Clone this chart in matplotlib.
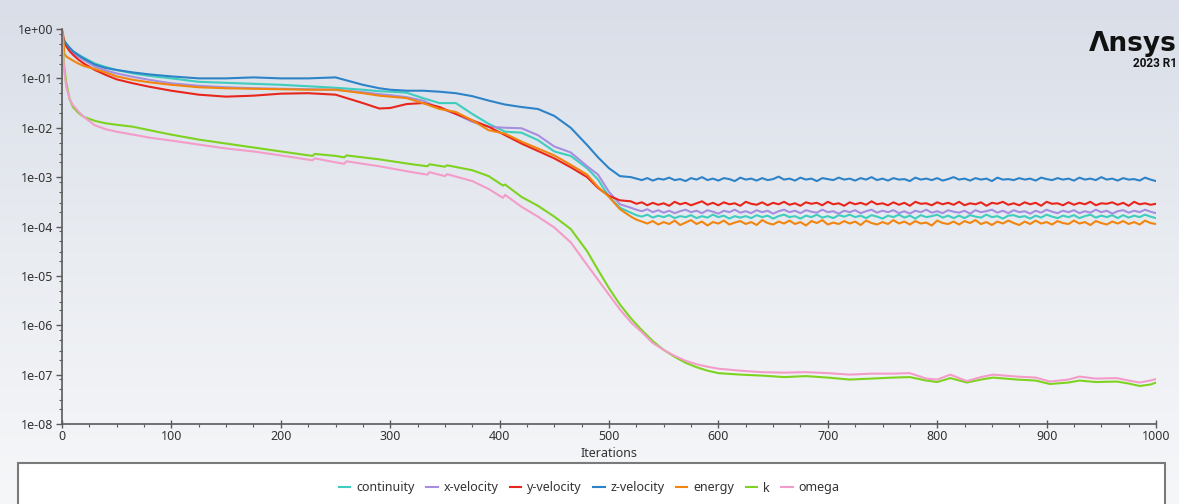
import matplotlib
matplotlib.use("Agg")
import matplotlib.pyplot as plt
import numpy as np
from matplotlib.colors import LinearSegmentedColormap
from matplotlib.patches import Rectangle
from matplotlib.ticker import FixedLocator, FuncFormatter, LogLocator, MultipleLocator

plt.rcParams["font.family"] = ["Noto Sans", "DejaVu Sans"]

# residual histories as log10 values
it_flow_head = [0, 1, 2, 4, 7, 10, 15, 20, 30, 40, 50, 65, 80, 100, 125, 150, 175, 200, 225,
                250, 275, 290, 300, 315, 330, 345, 360, 375, 390, 405, 420, 435, 450, 465,
                480, 490, 500, 510]
it_flow_tail = list(range(520, 1001, 5))

continuity_head = [-0.05, -0.15, -0.22, -0.30, -0.38, -0.45, -0.52, -0.58, -0.70, -0.77, -0.83,
                   -0.90, -0.95, -1.00, -1.07, -1.09, -1.11, -1.13, -1.16, -1.19, -1.23, -1.26,
                   -1.27, -1.29, -1.40, -1.50, -1.50, -1.72, -1.92, -2.08, -2.10, -2.25, -2.48,
                   -2.57, -2.82, -3.05, -3.40, -3.62]
continuity_tail = [-3.72, -3.77, -3.80, -3.76, -3.82, -3.78, -3.81, -3.77, -3.83, -3.79,
                   -3.81, -3.77, -3.83, -3.79, -3.82, -3.76, -3.81, -3.78, -3.84, -3.79,
                   -3.82, -3.79, -3.83, -3.77, -3.81, -3.78, -3.84, -3.79, -3.76, -3.81,
                   -3.79, -3.84, -3.78, -3.81, -3.76, -3.82, -3.79, -3.83, -3.77, -3.80,
                   -3.76, -3.81, -3.78, -3.83, -3.77, -3.80, -3.84, -3.78, -3.81, -3.76,
                   -3.82, -3.78, -3.84, -3.77, -3.81, -3.79, -3.76, -3.82, -3.78, -3.83,
                   -3.78, -3.83, -3.77, -3.80, -3.82, -3.76, -3.81, -3.79, -3.84, -3.78,
                   -3.77, -3.81, -3.79, -3.84, -3.78, -3.82, -3.76, -3.80, -3.83, -3.78,
                   -3.81, -3.77, -3.83, -3.79, -3.76, -3.82, -3.78, -3.81, -3.77, -3.83,
                   -3.77, -3.82, -3.78, -3.81, -3.76, -3.80, -3.83]

x_vel_head = [-0.05, -0.15, -0.25, -0.33, -0.42, -0.48, -0.56, -0.63, -0.76, -0.84, -0.90,
              -0.97, -1.03, -1.10, -1.15, -1.18, -1.20, -1.21, -1.22, -1.23, -1.28, -1.32,
              -1.34, -1.38, -1.45, -1.60, -1.72, -1.88, -1.98, -2.00, -2.01, -2.15, -2.38,
              -2.50, -2.78, -2.95, -3.30, -3.55]
x_vel_tail = [-3.62, -3.66, -3.69, -3.65, -3.71, -3.67, -3.72, -3.68, -3.73, -3.69,
              -3.66, -3.71, -3.68, -3.73, -3.67, -3.70, -3.74, -3.68, -3.71, -3.66,
              -3.72, -3.69, -3.73, -3.67, -3.71, -3.68, -3.74, -3.69, -3.66, -3.71,
              -3.68, -3.73, -3.67, -3.70, -3.72, -3.66, -3.71, -3.69, -3.74, -3.68,
              -3.71, -3.67, -3.73, -3.69, -3.66, -3.72, -3.68, -3.71, -3.67, -3.73,
              -3.69, -3.74, -3.68, -3.71, -3.66, -3.72, -3.69, -3.73, -3.67, -3.70,
              -3.72, -3.68, -3.74, -3.67, -3.71, -3.69, -3.66, -3.72, -3.68, -3.73,
              -3.67, -3.71, -3.69, -3.74, -3.68, -3.72, -3.66, -3.70, -3.73, -3.68,
              -3.71, -3.67, -3.73, -3.69, -3.72, -3.66, -3.71, -3.68, -3.74, -3.69,
              -3.67, -3.72, -3.68, -3.71, -3.66, -3.70, -3.73]

y_vel_head = [-0.05, -0.15, -0.25, -0.35, -0.45, -0.52, -0.62, -0.70, -0.83, -0.93, -1.02,
              -1.10, -1.17, -1.25, -1.33, -1.37, -1.35, -1.31, -1.30, -1.33, -1.50, -1.61,
              -1.60, -1.52, -1.50, -1.58, -1.72, -1.85, -1.98, -2.15, -2.32, -2.47, -2.62,
              -2.80, -3.00, -3.22, -3.38, -3.47]
y_vel_tail = [-3.49, -3.54, -3.51, -3.57, -3.52, -3.56, -3.53, -3.58, -3.50, -3.55,
              -3.52, -3.57, -3.53, -3.49, -3.56, -3.52, -3.57, -3.51, -3.55, -3.53,
              -3.58, -3.50, -3.54, -3.56, -3.51, -3.57, -3.52, -3.55, -3.50, -3.56,
              -3.53, -3.58, -3.51, -3.54, -3.52, -3.57, -3.50, -3.55, -3.53, -3.58,
              -3.51, -3.55, -3.52, -3.56, -3.49, -3.55, -3.53, -3.57, -3.51, -3.56,
              -3.52, -3.58, -3.50, -3.54, -3.53, -3.57, -3.51, -3.55, -3.52, -3.56,
              -3.50, -3.57, -3.53, -3.55, -3.51, -3.58, -3.52, -3.54, -3.50, -3.56,
              -3.53, -3.57, -3.51, -3.55, -3.52, -3.58, -3.50, -3.54, -3.53, -3.57,
              -3.51, -3.56, -3.52, -3.55, -3.50, -3.57, -3.53, -3.54, -3.51, -3.56,
              -3.52, -3.58, -3.50, -3.55, -3.53, -3.56, -3.54]

z_vel_head = [-0.05, -0.20, -0.25, -0.30, -0.38, -0.45, -0.53, -0.60, -0.72, -0.79, -0.83,
              -0.88, -0.92, -0.96, -1.00, -1.00, -0.98, -1.00, -1.00, -0.98, -1.13, -1.20,
              -1.23, -1.25, -1.25, -1.27, -1.30, -1.36, -1.45, -1.53, -1.58, -1.62, -1.76,
              -2.00, -2.35, -2.60, -2.82, -2.98]
z_vel_tail = [-3.00, -3.03, -3.06, -3.02, -3.07, -3.03, -3.05, -3.01, -3.06, -3.04,
              -3.08, -3.02, -3.05, -3.00, -3.06, -3.03, -3.07, -3.02, -3.04, -3.08,
              -3.01, -3.05, -3.03, -3.07, -3.02, -3.06, -3.04, -2.99, -3.05, -3.03,
              -3.07, -3.01, -3.05, -3.03, -3.08, -3.02, -3.04, -3.06, -3.01, -3.05,
              -3.03, -3.07, -3.02, -3.05, -3.00, -3.06, -3.03, -3.07, -3.02, -3.05,
              -3.04, -3.08, -3.01, -3.05, -3.03, -3.06, -3.02, -3.07, -3.04, -3.00,
              -3.05, -3.03, -3.07, -3.02, -3.05, -3.03, -3.08, -3.01, -3.05, -3.04,
              -3.06, -3.02, -3.05, -3.03, -3.07, -3.01, -3.04, -3.06, -3.02, -3.05,
              -3.03, -3.07, -3.01, -3.05, -3.03, -3.06, -3.00, -3.05, -3.03, -3.07,
              -3.02, -3.05, -3.04, -3.07, -3.01, -3.05, -3.08]

energy_head = [0.00, -0.10, -0.50, -0.56, -0.60, -0.64, -0.70, -0.75, -0.81, -0.88, -0.96,
               -1.03, -1.08, -1.13, -1.18, -1.20, -1.21, -1.22, -1.23, -1.23, -1.30, -1.35,
               -1.37, -1.40, -1.50, -1.62, -1.68, -1.85, -2.05, -2.12, -2.28, -2.42, -2.56,
               -2.75, -2.95, -3.20, -3.40, -3.65]
energy_tail = [-3.80, -3.86, -3.90, -3.94, -3.89, -3.96, -3.91, -3.95, -3.88, -3.97,
               -3.92, -3.87, -3.95, -3.90, -3.98, -3.91, -3.94, -3.88, -3.96, -3.92,
               -3.89, -3.95, -3.91, -3.97, -3.87, -3.93, -3.96, -3.90, -3.94, -3.88,
               -3.95, -3.91, -3.98, -3.89, -3.93, -3.87, -3.96, -3.92, -3.95, -3.89,
               -3.94, -3.90, -3.97, -3.88, -3.93, -3.96, -3.91, -3.95, -3.87, -3.94,
               -3.90, -3.96, -3.89, -3.94, -3.92, -3.98, -3.88, -3.93, -3.95, -3.90,
               -3.96, -3.89, -3.93, -3.87, -3.95, -3.91, -3.97, -3.90, -3.94, -3.88,
               -3.93, -3.97, -3.90, -3.95, -3.88, -3.94, -3.91, -3.96, -3.89, -3.93,
               -3.95, -3.88, -3.94, -3.91, -3.97, -3.89, -3.93, -3.96, -3.90, -3.94,
               -3.89, -3.95, -3.91, -3.96, -3.88, -3.93, -3.95]

it_turb = [0, 1, 2, 4, 7, 10, 15, 20, 30, 40,
           50, 65, 80, 100, 125, 150, 175, 200, 229, 231,
           250, 258, 260, 290, 320, 334, 336, 350, 352, 375,
           390, 403, 405, 420, 435, 450, 465, 480, 490, 500,
           510, 520, 530, 540, 550, 560, 570, 580, 590, 600,
           620, 640, 660, 680, 700, 720, 740, 760, 775, 790,
           800, 812, 827, 840, 851, 873, 890, 903, 920, 930,
           945, 964, 975, 985, 995, 1000]
k_res = [-0.15, -0.45, -0.75, -1.10, -1.42, -1.58, -1.70, -1.78, -1.86, -1.91,
         -1.94, -1.98, -2.05, -2.14, -2.24, -2.32, -2.40, -2.48, -2.57, -2.53,
         -2.57, -2.60, -2.56, -2.64, -2.74, -2.78, -2.74, -2.79, -2.76, -2.86,
         -2.98, -3.17, -3.15, -3.40, -3.58, -3.80, -4.05, -4.50, -4.88, -5.25,
         -5.58, -5.86, -6.10, -6.32, -6.50, -6.64, -6.76, -6.85, -6.92, -6.97,
         -7.00, -7.02, -7.05, -7.03, -7.06, -7.10, -7.08, -7.06, -7.05, -7.12,
         -7.15, -7.07, -7.16, -7.10, -7.06, -7.10, -7.12, -7.19, -7.16, -7.12,
         -7.15, -7.14, -7.18, -7.23, -7.20, -7.16]
omega_res = [-0.05, -0.50, -0.85, -1.18, -1.42, -1.54, -1.67, -1.78, -1.95, -2.03,
             -2.08, -2.14, -2.20, -2.26, -2.34, -2.42, -2.48, -2.56, -2.66, -2.62,
             -2.70, -2.73, -2.68, -2.78, -2.90, -2.95, -2.90, -2.98, -2.94, -3.08,
             -3.24, -3.42, -3.36, -3.60, -3.80, -4.02, -4.32, -4.78, -5.08, -5.38,
             -5.68, -5.94, -6.14, -6.36, -6.50, -6.62, -6.72, -6.79, -6.84, -6.88,
             -6.92, -6.95, -6.96, -6.95, -6.97, -7.00, -6.98, -6.98, -6.97, -7.08,
             -7.10, -7.00, -7.13, -7.05, -7.00, -7.04, -7.06, -7.14, -7.10, -7.04,
             -7.08, -7.07, -7.12, -7.16, -7.12, -7.09]

labels = ["continuity", "x-velocity", "y-velocity", "z-velocity", "energy", "k", "omega"]
colors = ["#3fcdbd", "#a68fe0", "#e8261c", "#2d83c8", "#f2850f", "#7ed321", "#f39cc9"]

W, H = 1179, 504
fig = plt.figure(figsize=(W / 100, H / 100), dpi=100)

# background gradient
bg = fig.add_axes([0, 0, 1, 1], zorder=-10)
bg_cmap = LinearSegmentedColormap.from_list("bg", ["#d9dee8", "#e9ecf1", "#f6f7f9"])
bg.imshow(np.linspace(0, 1, 256).reshape(-1, 1), aspect="auto", cmap=bg_cmap,
          extent=[0, 1, 0, 1], origin="upper")
bg.axis("off")

ax = fig.add_axes([62 / W, 1 - 424 / H, (1156 - 62) / W, (424 - 29) / H])
ax.set_facecolor("none")

flow = [continuity_head + continuity_tail, x_vel_head + x_vel_tail, y_vel_head + y_vel_tail,
        z_vel_head + z_vel_tail, energy_head + energy_tail]
it_flow = it_flow_head + it_flow_tail
for vals, lab, col in zip(flow, labels[:5], colors[:5]):
    ax.plot(it_flow, 10.0 ** np.array(vals), color=col, lw=1.5, label=lab)
ax.plot(it_turb, 10.0 ** np.array(k_res), color=colors[5], lw=1.5, label=labels[5])
ax.plot(it_turb, 10.0 ** np.array(omega_res), color=colors[6], lw=1.5, label=labels[6])

ax.set_yscale("log")
ax.set_ylim(1e-8, 1)
ax.set_xlim(0, 1000)
ax.yaxis.set_major_locator(FixedLocator([10.0 ** e for e in range(-8, 1)]))
ax.yaxis.set_minor_locator(LogLocator(base=10, subs=(2, 3, 5, 8)))
ax.yaxis.set_major_formatter(FuncFormatter(lambda v, p: f"{v:.0e}"))
ax.yaxis.set_minor_formatter(FuncFormatter(lambda v, p: ""))
ax.xaxis.set_major_locator(MultipleLocator(100))
ax.xaxis.set_minor_locator(MultipleLocator(25))

for s in ["top", "right"]:
    ax.spines[s].set_visible(False)
for s in ["left", "bottom"]:
    ax.spines[s].set_color("#5a5a5a")
    ax.spines[s].set_linewidth(1.2)
ax.tick_params(which="major", length=4, width=1, color="#5a5a5a", labelsize=9,
               labelcolor="#333333", pad=2)
ax.tick_params(axis="x", which="major", direction="inout", length=6, pad=1)
ax.tick_params(which="minor", length=2.5, width=0.8, color="#5a5a5a")
ax.set_xlabel("Iterations", fontsize=9, color="#333333", labelpad=3)

# legend box at the bottom
fig.patches.append(Rectangle((18 / W, -0.05), (1165 - 18) / W, 0.05 + 1 - 463 / H,
                             transform=fig.transFigure, facecolor="white",
                             edgecolor="#7a7a7a", lw=1.5, zorder=1))
handles, labs = ax.get_legend_handles_labels()
fig.legend(handles, labs, loc="center", bbox_to_anchor=(0.5, 1 - 488 / H), ncol=7,
           frameon=False, fontsize=9, handlelength=0.9, handletextpad=0.5,
           columnspacing=0.9, labelcolor="#333333")

fig.text(1177 / W, 1 - 51 / H, "\u039bnsys", ha="right", va="baseline", fontsize=19,
         fontweight="bold", family="DejaVu Sans", color="#111111")
fig.text(1177 / W, 1 - 67 / H, "2023 R1", ha="right", va="baseline", fontsize=8.5,
         fontweight="bold", family="Roboto", color="#111111")

fig.savefig("out.png", dpi=100)
